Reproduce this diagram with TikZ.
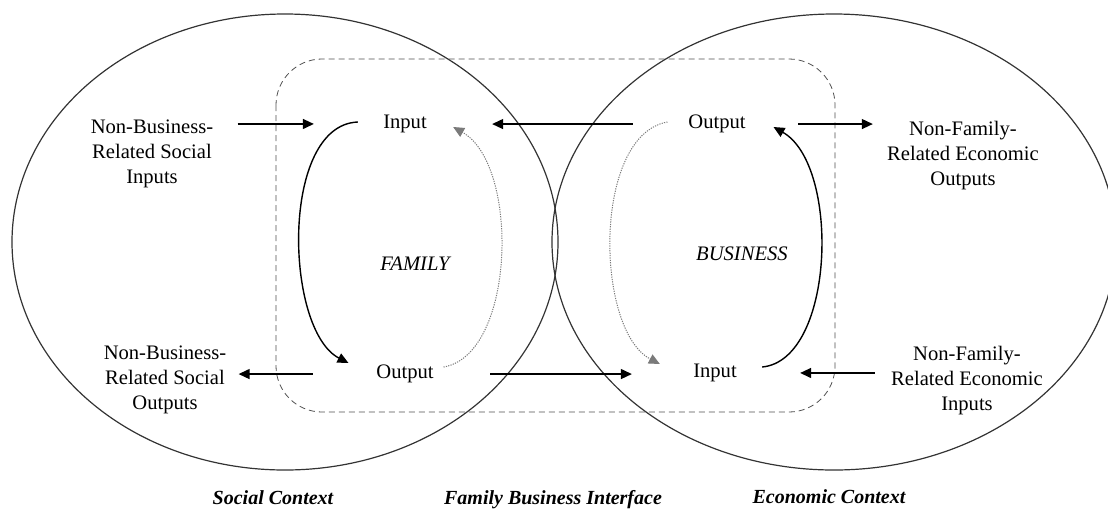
\documentclass[tikz,border=0pt]{standalone}
\usepackage{fontspec}
\setmainfont{Liberation Serif}
\usepackage{tikz}
\usetikzlibrary{arrows.meta}
\definecolor{rim}{HTML}{333333}
\definecolor{dashgray}{HTML}{505050}
\definecolor{dotgray}{HTML}{7a7a7a}
\tikzset{%
    >={Triangle[length=5.5pt,width=5pt]},
    lbl/.style={inner sep=0pt, align=center, font=\fontsize{10.3}{12.5}\selectfont},
    ctxlbl/.style={inner sep=0pt, font=\fontsize{10}{12}\selectfont\bfseries\itshape},
    flow/.style={->, line width=0.7pt},
    loopline/.style={->, line width=0.7pt},
    loopdot/.style={->, color=dotgray, line width=0.5pt, dash pattern=on 0.6pt off 0.6pt}
}

\begin{document}
\begin{tikzpicture}[x=0.5pt,y=-0.5pt]
    \useasboundingbox (0,0) rectangle (1108,510);

    % contexts and interface
    \draw[color=rim, line width=0.6pt] (285,242) ellipse [x radius=136.5pt, y radius=114pt];
    \draw[color=rim, line width=0.6pt] (834,242) ellipse [x radius=141pt, y radius=114pt];
    \draw[color=dashgray, dash pattern=on 3pt off 2pt, rounded corners=23pt] (276,59) rectangle (835,412);

    % family
    \node[lbl] (fin) at (405,124) {Input};
    \node[lbl] (fout) at (405,374) {Output};
    \node[lbl, font=\fontsize{10.3}{12.5}\selectfont\itshape] (fam) at (415,264) {FAMILY};

    % business
    \node[lbl] (bout) at (717,124) {Output};
    \node[lbl] (bin) at (715,373) {Input};
    \node[lbl, font=\fontsize{10.3}{12.5}\selectfont\itshape] (bus) at (742,254) {BUSINESS};

    % outside
    \node[lbl] (sin) at (152,154) {Non-Business-\\Related Social\\Inputs};
    \node[lbl] (sout) at (165,380) {Non-Business-\\Related Social\\Outputs};
    \node[lbl] (nfo) at (963,156) {Non-Family-\\Related Economic\\Outputs};
    \node[lbl] (nfi) at (967,381) {Non-Family-\\Related Economic\\Inputs};

    \node[ctxlbl] (soc) at (273,498) {Social Context};
    \node[ctxlbl] (fbi) at (553,500) {Family Business Interface};
    \node[ctxlbl] (eco) at (829,497) {Economic Context};

    % flows
    \draw[flow, shorten <=12pt, shorten >=34.5pt] (sin.east |- fin.mid west) -- (fin.mid west);
    \draw[flow, shorten <=31.5pt, shorten >=6pt] (fout.mid west) -- (sout.east |- fout.mid west);
    \draw[flow, shorten <=27.5pt, shorten >=32.5pt] (bout.mid west) -- (fin.mid east |- bout.mid west);
    \draw[flow, shorten <=28pt, shorten >=30.5pt] (fout.mid east) -- (bin.mid west |- fout.mid east);
    \draw[flow, shorten <=26pt, shorten >=7pt] (bout.mid east) -- (nfo.west |- bout.mid east);
    \draw[flow, shorten <=8pt, shorten >=31.5pt] (nfi.west |- bin.mid east) -- (bin.mid east);

    % loops
    \draw[loopline] ([shift={(-25,-2)}]fin.west) .. controls +(-78,3) and +(-64,-33) .. ([shift={(-27.5,-11)}]fout.west);
    \draw[loopdot] ([shift={(9.5,-7)}]fout.east) .. controls +(72,-12) and +(67,38) .. ([shift={(26,3)}]fin.east);
    \draw[loopdot] ([shift={(-20.5,-2)}]bout.west) .. controls +(-75,13) and +(-65,-34) .. ([shift={(-33,-9)}]bin.west);
    \draw[loopline] ([shift={(25,-6)}]bin.east) .. controls +(73,-7) and +(67,38) .. ([shift={(27.5,3)}]bout.east);
\end{tikzpicture}
\end{document}
